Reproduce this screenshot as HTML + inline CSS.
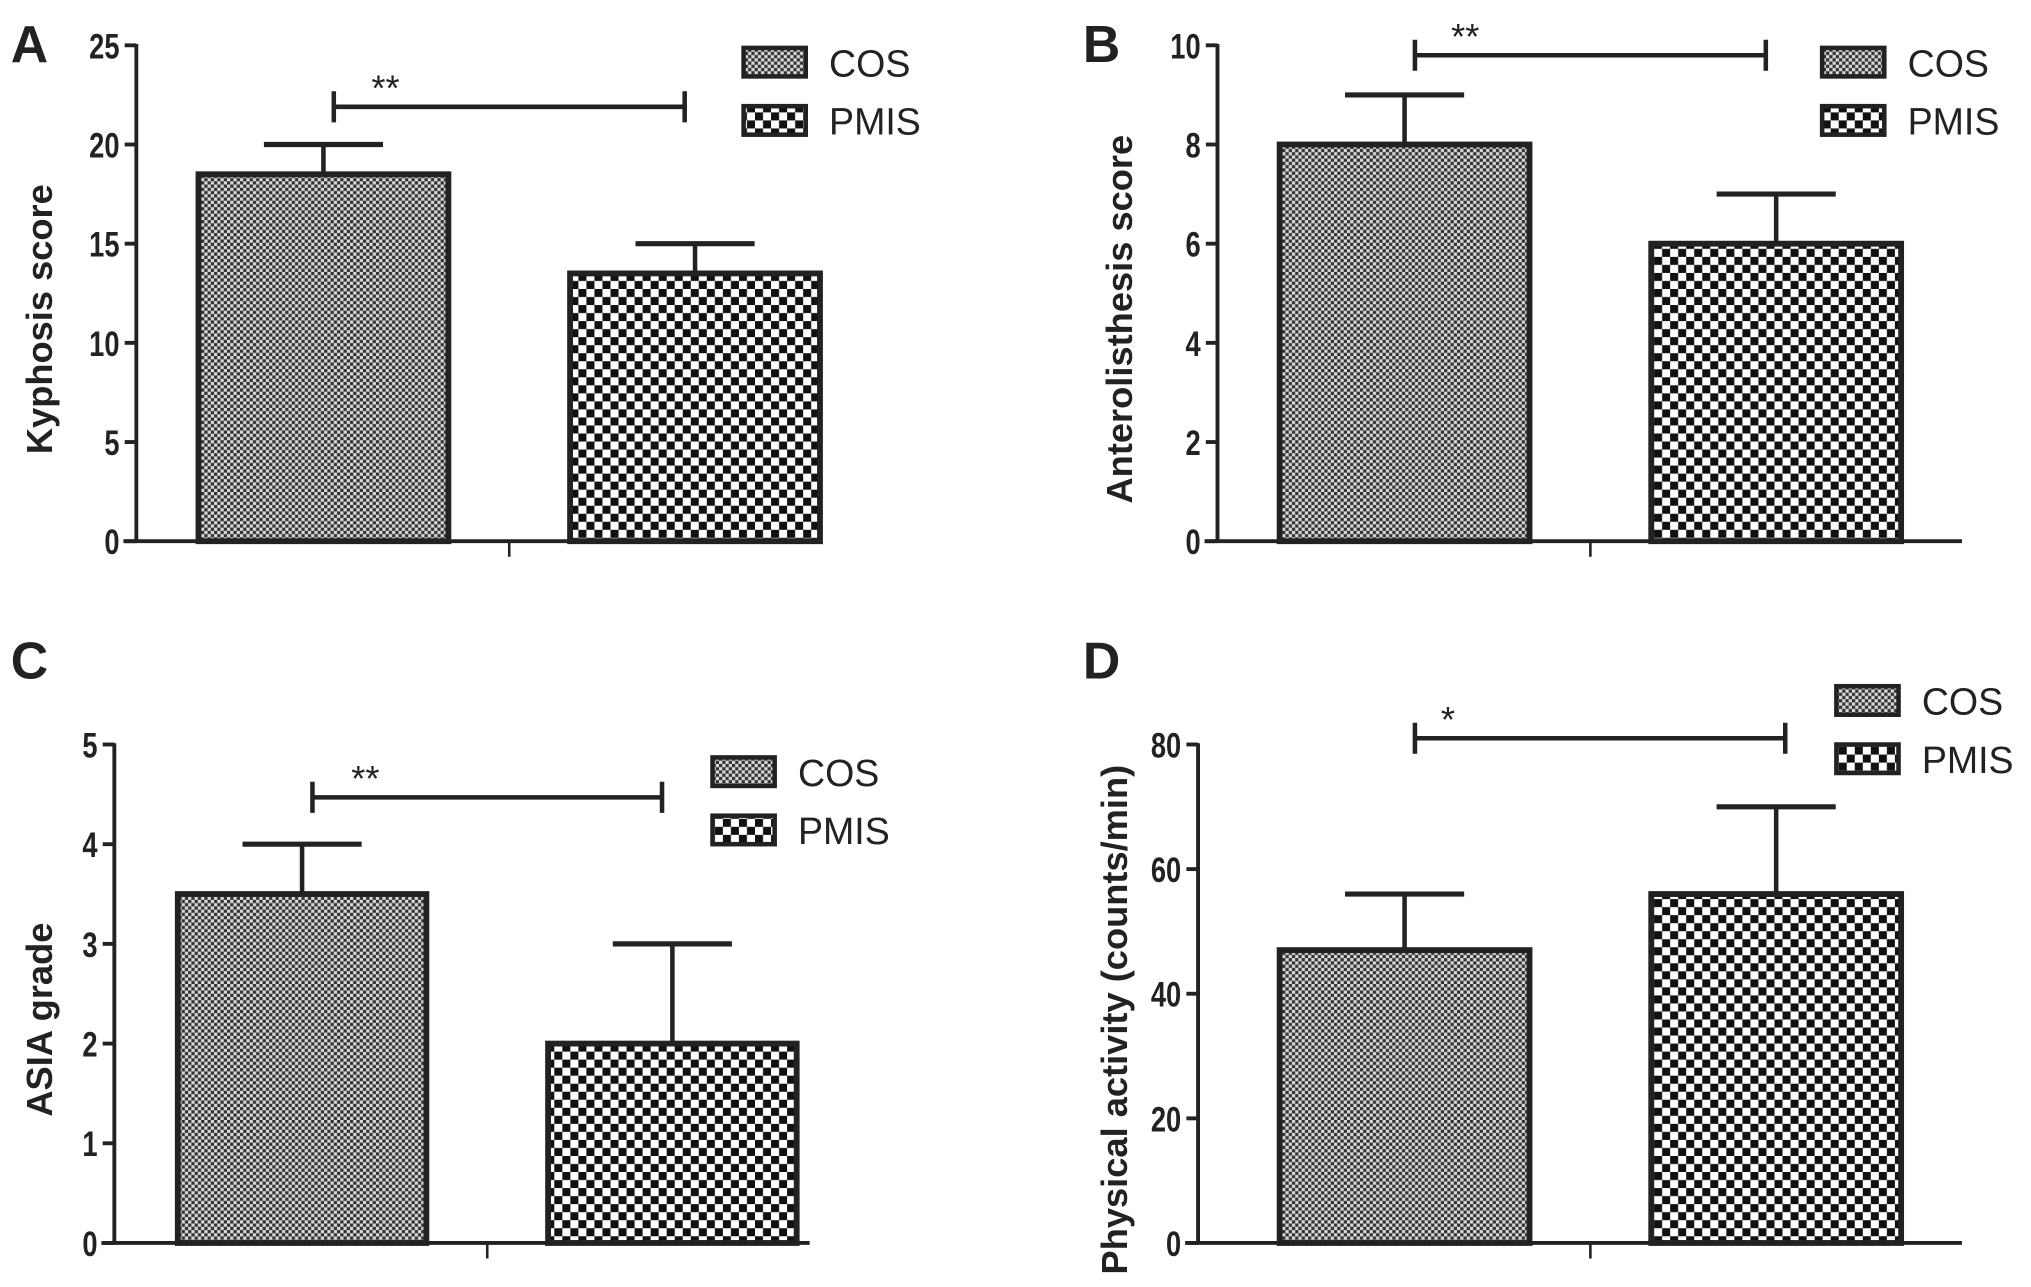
<!DOCTYPE html>
<html><head><meta charset="utf-8"><style>
html,body{margin:0;padding:0;background:#fff;}
svg{display:block;font-family:"Liberation Sans",Arial,sans-serif;}
</style></head><body>
<svg id="chart" width="2031" height="1287" viewBox="0 0 1568 994" xmlns="http://www.w3.org/2000/svg">
<defs>
<pattern id="cosPat" width="5" height="5" patternUnits="userSpaceOnUse">
<rect width="5" height="5" fill="#d8d8d8"/><rect width="2.5" height="2.5" fill="#333"/><rect x="2.5" y="2.5" width="2.5" height="2.5" fill="#333"/>
</pattern>
<pattern id="pmisPat" width="12.4" height="12.4" patternUnits="userSpaceOnUse">
<rect width="12.4" height="12.4" fill="#fff"/><rect width="6.2" height="6.2" fill="#111"/><rect x="6.2" y="6.2" width="6.2" height="6.2" fill="#111"/>
</pattern>
</defs>
</svg>
<script>
const panelLetters = ['A','B','C','D'];
const yTitles = ['Kyphosis score','Anterolisthesis score','ASIA grade','Physical activity (counts/min)'];
const yMax = [25, 10, 5, 80];
const yStep = [5, 2, 1, 20];
const cosMean = [18.5, 8, 3.5, 47];
const cosErr = [1.5, 1, 0.5, 9];
const pmisMean = [13.5, 6, 2, 56];
const pmisErr = [1.5, 1, 1, 14];
const sigLabels = ['**','**','**','*'];
const sigLevel = [21.9, 9.8, 4.47, 81];
const seriesNames = ['COS','PMIS'];

const layout = [
 {ax:105, y0:418, yTop:35, x0:95, x1:578, b1:153, b2:440, bw:193, lx:574, ly:37, letX:8, letY:48, titleX:40, starDx:29, brR:0},
 {ax:940, y0:418, yTop:35, x0:930, x1:1515, b1:988, b2:1275, bw:193, lx:1407, ly:37, letX:836, letY:48, titleX:874, starDx:28, brR:0},
 {ax:88, y0:960, yTop:575, x0:78, x1:625, b1:137, b2:423, bw:192, lx:550, ly:585, letX:8, letY:524, titleX:40, starDx:30, brR:0},
 {ax:925, y0:960, yTop:575, x0:915, x1:1515, b1:988, b2:1275, bw:193, lx:1418, ly:530, letX:836, letY:524, titleX:870, starDx:20, brR:15}
];
const NS='http://www.w3.org/2000/svg';
const svg=document.getElementById('chart');
function mk(tag,attrs,parent){const e=document.createElementNS(NS,tag);for(const k in attrs)e.setAttribute(k,attrs[k]);(parent||svg).appendChild(e);return e;}

for(let p=0;p<4;p++){
 const L=layout[p];
 const g=mk('g',{});
 
 
 const topVal = yMax[p];
 const sy=v=>L.y0-(v/topVal)*(L.y0-L.yTop);
 const letter=mk('text',{x:L.letX,y:L.letY,'font-size':40,'font-weight':'bold',fill:'#222'},g);
 letter.textContent=panelLetters[p];
 
 
 const yax=mk('line',{x1:L.ax,y1:sy(topVal)-1,x2:L.ax,y2:L.y0,stroke:'#222','stroke-width':3},g);
 
 
 for(let v=0;v<=yMax[p]+1e-9;v+=yStep[p]){
  const y=sy(v);
  const tk=mk('line',{x1:L.ax-9,y1:y,x2:L.ax,y2:y,stroke:'#222','stroke-width':3},g);
  
  
  const tl=mk('text',{x:L.ax-13,y:y+10,'font-size':27,'font-weight':'bold','text-anchor':'end',fill:'#222',transform:`translate(${L.ax-13},0) scale(0.78,1) translate(${-(L.ax-13)},0)`},g);
  tl.textContent=String(v);
  
  
 }
 const tcy=(L.y0+L.yTop)/2+20;
 const tt=mk('text',{x:L.titleX,y:tcy,'font-size':28,'font-weight':'bold','text-anchor':'middle',fill:'#222',transform:`rotate(-90 ${L.titleX} ${tcy})`},g);
 tt.textContent=yTitles[p];
 
 
 const means=[cosMean[p],pmisMean[p]], errs=[cosErr[p],pmisErr[p]], xs=[L.b1,L.b2], pats=['url(#cosPat)','url(#pmisPat)'];
 for(let i=0;i<2;i++){
  const cx=xs[i]+L.bw/2, top=sy(means[i]), et=sy(means[i]+errs[i]);
  const el=mk('line',{x1:cx,y1:top,x2:cx,y2:et,stroke:'#222','stroke-width':3.5},g);
  
  
  const cap=mk('line',{x1:cx-46,y1:et,x2:cx+46,y2:et,stroke:'#222','stroke-width':4},g);
  
  
  const r=mk('rect',{x:xs[i],y:top,width:L.bw,height:L.y0-top,fill:pats[i],stroke:'#222','stroke-width':4.5},g);
  
  
 }
 const xax=mk('line',{x1:L.x0,y1:L.y0,x2:L.x1,y2:L.y0,stroke:'#222','stroke-width':3},g);
 
 
 const mid=(L.b1+L.bw+L.b2)/2;
 const xt=mk('line',{x1:mid,y1:L.y0,x2:mid,y2:L.y0+12,stroke:'#222','stroke-width':2},g);
 
 
 const bx1=L.b1+L.bw/2+8, bx2=L.b2+L.bw/2-8+L.brR, by=sy(sigLevel[p]);
 const br=mk('path',{d:`M${bx1} ${by-12}V${by+12}M${bx1} ${by}H${bx2}M${bx2} ${by-12}V${by+12}`,stroke:'#222','stroke-width':3.5,fill:'none'},g);
 
 
 const st=mk('text',{x:bx1+L.starDx,y:by-5,'font-size':28,fill:'#222'},g);
 st.textContent=sigLabels[p];
 
 
 for(let i=0;i<2;i++){
  const ly=L.ly+i*45;
  const lb=mk('rect',{x:L.lx,y:ly,width:48,height:22,fill:pats[i],stroke:'#222','stroke-width':3.5},g);
  
  
  const lt=mk('text',{x:L.lx+66,y:ly+22,'font-size':29,fill:'#222'},g);
  lt.textContent=seriesNames[i];
  
  
 }
}
</script>
</body></html>
